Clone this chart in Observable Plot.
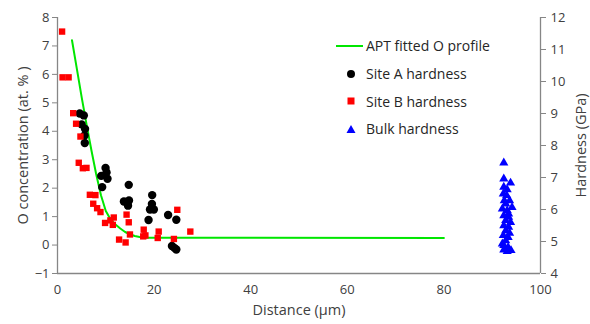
<!DOCTYPE html>
<html>
<head>
<meta charset="utf-8">
<script src="https://cdn.jsdelivr.net/npm/d3@7"></script>
<script src="https://cdn.jsdelivr.net/npm/@observablehq/plot@0.6"></script>
<style>
  body { margin: 0; background: white; }
  #wrap { position: relative; width: 590px; height: 324px; font-family: "Open Sans", sans-serif; }
  #legend { position: absolute; left: 335px; top: 32px; font-size: 14px; color: #262626; }
  .row { display: flex; align-items: center; height: 27.7px; }
  .sw { width: 31px; height: 27.7px; display: flex; align-items: center; justify-content: center; }
  g[aria-label$="axis label"] { font-size: 14.5px; }
</style>
</head>
<body>
<div id="wrap"></div>
<script>
// APT fitted O profile (left axis, at.%)
const lineDist = [3, 4, 5, 6, 7, 8, 9, 10, 11, 12, 13, 14, 15, 16, 17, 18, 80];
const lineO    = [7.2, 6.2, 5.2, 4.25, 3.35, 2.5, 1.75, 1.2, 0.9, 0.72, 0.58, 0.46, 0.38, 0.32, 0.28, 0.26, 0.25];

// Site A hardness (right axis, GPa)
const siteADist = [4.6, 5.45, 5.0, 5.7, 5.6, 5.65, 9.95, 10.15, 9.05, 10.35, 9.25, 14.75, 13.75, 14.8, 14.6, 19.6, 19.55, 19.15, 19.95, 18.85, 22.9, 24.6, 23.7, 24.2, 24.6];
const siteAH    = [9.0, 8.94, 8.66, 8.52, 8.31, 8.08, 7.3, 7.16, 7.05, 6.96, 6.7, 6.77, 6.25, 6.28, 6.12, 6.45, 6.17, 6.0, 6.0, 5.67, 5.83, 5.68, 4.86, 4.8, 4.75];

// Site B hardness (right axis, GPa)
const siteBDist = [0.95, 1.05, 2.3, 3.25, 3.85, 4.75, 4.4, 5.25, 6.0, 6.7, 7.85, 7.4, 8.2, 8.9, 9.85, 10.95, 11.45, 11.65, 12.75, 14.1, 14.3, 14.75, 15.0, 17.85, 17.75, 18.2, 20.95, 20.75, 24.1, 24.8, 27.5];
const siteBH    = [11.56, 10.13, 10.13, 9.01, 8.68, 8.28, 7.46, 7.29, 7.3, 6.46, 6.45, 6.18, 6.04, 5.92, 5.58, 5.66, 5.52, 5.75, 5.06, 4.97, 5.84, 5.6, 5.22, 5.37, 5.16, 5.19, 5.31, 5.11, 5.08, 5.99, 5.31];

// Bulk hardness (right axis, GPa)
const bulkDist = [92.4, 92.4, 93.8, 92.4, 93.1, 92.3, 93.0, 92.5, 93.6, 92.8, 94.1, 92.1, 93.1, 93.4, 92.4, 93.4, 92.8, 93.8, 92.4, 93.4, 92.8, 93.6, 92.3, 93.3, 92.8, 92.1, 92.4, 93.3, 92.4, 93.9, 93.1];
const bulkH    = [7.46, 6.96, 6.83, 6.7, 6.62, 6.49, 6.44, 6.28, 6.28, 6.18, 6.07, 6.02, 5.97, 5.86, 5.81, 5.76, 5.66, 5.6, 5.5, 5.45, 5.34, 5.26, 5.19, 5.13, 5.03, 4.93, 4.88, 4.82, 4.74, 4.72, 4.69];

const xTicks = [0, 20, 40, 60, 80, 100];
const oTicks = [-1, 0, 1, 2, 3, 4, 5, 6, 7, 8];
const hTicks = [4, 5, 6, 7, 8, 9, 10, 11, 12];

const legendLabels = ["APT fitted O profile", "Site A hardness", "Site B hardness", "Bulk hardness"];

// map hardness (GPa, 4..12) onto the left axis (-1..8)
const hToO = h => -1 + (h - 4) * 9 / 8;
const oToH = o => 4 + (o + 1) * 8 / 9;

const lineData = lineDist.map((d, i) => ({d, o: lineO[i]}));
const aData = siteADist.map((d, i) => ({d, h: siteAH[i]}));
const bData = siteBDist.map((d, i) => ({d, h: siteBH[i]}));
const kData = bulkDist.map((d, i) => ({d, h: bulkH[i]}));

const axisGrey = "#868686";
const textCol = "#404040";

const chart = Plot.plot({
  width: 590, height: 324,
  marginLeft: 57, marginRight: 50, marginTop: 17, marginBottom: 51,
  style: {fontFamily: "Open Sans", fontSize: "13px", color: textCol, background: "white", overflow: "visible"},
  x: {domain: [0, 100]},
  y: {domain: [-1, 8]},
  marks: [
    Plot.axisX(xTicks, {tickSize: 0, tickPadding: 11, fill: textCol, label: "Distance (µm)", labelAnchor: "center", labelArrow: "none", labelOffset: 41}),
    Plot.axisY(oTicks, {tickSize: 5, tickPadding: 3, stroke: axisGrey, fill: textCol, label: "O concentration (at. % )", labelAnchor: "center", labelArrow: "none", labelOffset: 40}),
    Plot.axisY(hTicks.map(hToO), {anchor: "right", tickSize: 5, tickPadding: 5, stroke: axisGrey, fill: textCol,
      tickFormat: o => String(Math.round(oToH(o))), label: "Hardness (GPa)", labelAnchor: "center", labelArrow: "none", labelOffset: 45}),
    Plot.ruleX([0], {stroke: axisGrey, strokeWidth: 1.3}),
    Plot.ruleX([100], {stroke: axisGrey, strokeWidth: 1.3}),
    Plot.ruleY([-1], {stroke: axisGrey, strokeWidth: 1.3}),
    Plot.line(lineData, {x: "d", y: "o", stroke: "#00e600", strokeWidth: 2}),
    Plot.dot(aData, {x: "d", y: d => hToO(d.h), r: 4.2, fill: "black", stroke: "none"}),
    Plot.dot(bData, {x: "d", y: d => hToO(d.h), r: 3.6, symbol: "square", fill: "#ff0000", stroke: "none"}),
    Plot.dot(kData, {x: "d", y: d => hToO(d.h), r: 3.4, symbol: "triangle", fill: "#0000ff", stroke: "none"})
  ]
});

const wrap = document.getElementById("wrap");
wrap.appendChild(chart);

// legend
const swatches = [
  '<svg width="29" height="6"><line x1="0" y1="3" x2="27" y2="3" stroke="#00e600" stroke-width="2"/></svg>',
  '<svg width="10" height="10"><circle cx="5" cy="5" r="4" fill="black"/></svg>',
  '<svg width="10" height="10"><rect x="1.5" y="1.5" width="7" height="7" fill="#ff0000"/></svg>',
  '<svg width="10" height="10"><path d="M5,1 L9.5,9 L0.5,9 Z" fill="#0000ff"/></svg>'
];
const legend = document.createElement("div");
legend.id = "legend";
legend.innerHTML = legendLabels.map((t, i) =>
  `<div class="row"><div class="sw">${swatches[i]}</div><span>${t}</span></div>`).join("");
wrap.appendChild(legend);
</script>
</body>
</html>
